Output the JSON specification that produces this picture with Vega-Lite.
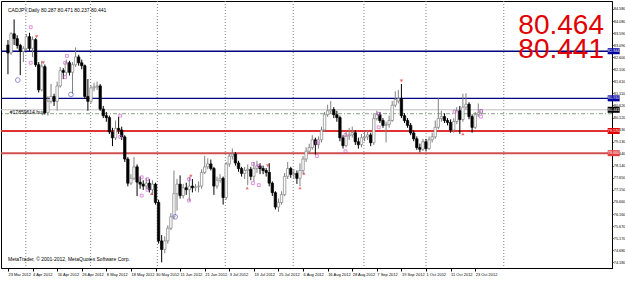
{
  "$schema": "https://vega.github.io/schema/vega-lite/v6.json",
  "width": 611,
  "height": 267,
  "autosize": {"type": "none"},
  "padding": {"left": 1, "top": 1, "right": 13, "bottom": 14},
  "background": "#ffffff",
  "config": {"view": {"stroke": "#000000", "strokeWidth": 1}, "font": "Liberation Sans", "axis": {"labelOverlap": false, "labelFlush": false}},
  "datasets": {
    "bars": [
      {"i":0,"o":83.10,"h":83.30,"l":81.90,"c":82.77},
      {"i":1,"o":82.77,"h":83.62,"l":82.70,"c":83.56},
      {"i":2,"o":83.56,"h":84.15,"l":83.10,"c":83.36},
      {"i":3,"o":83.36,"h":83.50,"l":82.95,"c":83.08},
      {"i":4,"o":83.08,"h":83.15,"l":81.86,"c":82.84},
      {"i":5,"o":82.84,"h":83.05,"l":82.40,"c":82.96},
      {"i":6,"o":82.96,"h":83.55,"l":82.90,"c":83.44},
      {"i":7,"o":83.44,"h":83.60,"l":82.85,"c":82.96},
      {"i":8,"o":82.96,"h":83.45,"l":82.60,"c":83.32},
      {"i":9,"o":83.32,"h":83.38,"l":82.20,"c":82.29},
      {"i":10,"o":82.29,"h":82.40,"l":81.15,"c":81.26},
      {"i":11,"o":81.26,"h":82.45,"l":81.20,"c":82.21},
      {"i":12,"o":82.21,"h":82.30,"l":80.25,"c":80.32},
      {"i":13,"o":80.32,"h":81.00,"l":80.20,"c":80.79},
      {"i":14,"o":80.79,"h":81.50,"l":80.70,"c":80.99},
      {"i":15,"o":80.99,"h":81.10,"l":80.60,"c":80.79},
      {"i":16,"o":80.79,"h":81.60,"l":80.40,"c":81.42},
      {"i":17,"o":81.42,"h":82.20,"l":81.35,"c":82.05},
      {"i":18,"o":82.05,"h":82.15,"l":81.70,"c":81.98},
      {"i":19,"o":81.98,"h":82.50,"l":81.85,"c":82.37},
      {"i":20,"o":82.37,"h":82.45,"l":81.85,"c":81.98},
      {"i":21,"o":81.98,"h":82.40,"l":81.10,"c":82.29},
      {"i":22,"o":82.29,"h":83.00,"l":82.20,"c":82.61},
      {"i":23,"o":82.61,"h":82.70,"l":82.25,"c":82.37},
      {"i":24,"o":82.37,"h":82.50,"l":82.10,"c":82.25},
      {"i":25,"o":82.25,"h":82.30,"l":80.90,"c":80.99},
      {"i":26,"o":80.99,"h":81.70,"l":80.40,"c":80.79},
      {"i":27,"o":80.79,"h":81.45,"l":80.70,"c":81.34},
      {"i":28,"o":81.34,"h":81.55,"l":81.20,"c":81.38},
      {"i":29,"o":81.38,"h":81.60,"l":81.25,"c":81.42},
      {"i":30,"o":81.42,"h":81.50,"l":80.40,"c":80.47},
      {"i":31,"o":80.47,"h":80.60,"l":80.10,"c":80.20},
      {"i":32,"o":80.20,"h":80.35,"l":79.95,"c":80.12},
      {"i":33,"o":80.12,"h":80.20,"l":79.45,"c":79.53},
      {"i":34,"o":79.53,"h":79.70,"l":78.95,"c":79.29},
      {"i":35,"o":79.29,"h":80.00,"l":79.20,"c":79.68},
      {"i":36,"o":79.68,"h":80.15,"l":79.45,"c":79.61},
      {"i":37,"o":79.61,"h":79.75,"l":79.20,"c":79.33},
      {"i":38,"o":79.33,"h":79.40,"l":78.30,"c":78.42},
      {"i":39,"o":78.42,"h":78.50,"l":77.30,"c":77.43},
      {"i":40,"o":77.43,"h":77.80,"l":77.35,"c":77.63},
      {"i":41,"o":77.63,"h":78.50,"l":77.55,"c":78.10},
      {"i":42,"o":78.10,"h":78.20,"l":76.90,"c":77.47},
      {"i":43,"o":77.47,"h":77.70,"l":77.20,"c":77.39},
      {"i":44,"o":77.39,"h":77.55,"l":77.15,"c":77.31},
      {"i":45,"o":77.31,"h":77.65,"l":77.20,"c":77.43},
      {"i":46,"o":77.43,"h":77.60,"l":77.05,"c":77.16},
      {"i":47,"o":77.16,"h":77.55,"l":76.95,"c":77.39},
      {"i":48,"o":77.39,"h":77.45,"l":76.55,"c":76.64},
      {"i":49,"o":76.64,"h":76.75,"l":74.95,"c":75.06},
      {"i":50,"o":75.06,"h":75.30,"l":74.18,"c":74.71},
      {"i":51,"o":74.71,"h":75.25,"l":74.55,"c":75.06},
      {"i":52,"o":75.06,"h":75.70,"l":74.95,"c":75.58},
      {"i":53,"o":75.58,"h":76.20,"l":75.50,"c":76.05},
      {"i":54,"o":76.05,"h":77.95,"l":75.95,"c":77.00},
      {"i":55,"o":77.00,"h":77.60,"l":76.30,"c":77.39},
      {"i":56,"o":77.39,"h":77.75,"l":76.80,"c":76.92},
      {"i":57,"o":76.92,"h":77.40,"l":76.80,"c":77.24},
      {"i":58,"o":77.24,"h":77.45,"l":76.95,"c":77.16},
      {"i":59,"o":77.16,"h":77.70,"l":76.70,"c":77.31},
      {"i":60,"o":77.31,"h":77.60,"l":77.05,"c":77.24},
      {"i":61,"o":77.24,"h":77.40,"l":77.10,"c":77.28},
      {"i":62,"o":77.28,"h":77.50,"l":77.05,"c":77.31},
      {"i":63,"o":77.31,"h":78.00,"l":77.20,"c":77.87},
      {"i":64,"o":77.87,"h":78.55,"l":77.80,"c":78.10},
      {"i":65,"o":78.10,"h":78.45,"l":78.00,"c":78.22},
      {"i":66,"o":78.22,"h":78.40,"l":77.95,"c":78.03},
      {"i":67,"o":78.03,"h":78.10,"l":76.95,"c":77.31},
      {"i":68,"o":77.31,"h":77.70,"l":77.20,"c":77.55},
      {"i":69,"o":77.55,"h":77.80,"l":77.45,"c":77.63},
      {"i":70,"o":77.63,"h":77.70,"l":76.55,"c":76.84},
      {"i":71,"o":76.84,"h":78.30,"l":76.75,"c":78.22},
      {"i":72,"o":78.22,"h":78.65,"l":78.10,"c":78.54},
      {"i":73,"o":78.54,"h":78.85,"l":78.40,"c":78.62},
      {"i":74,"o":78.62,"h":78.70,"l":78.15,"c":78.26},
      {"i":75,"o":78.26,"h":78.35,"l":77.90,"c":78.03},
      {"i":76,"o":78.03,"h":78.10,"l":77.70,"c":77.83},
      {"i":77,"o":77.83,"h":78.10,"l":77.60,"c":77.95},
      {"i":78,"o":77.95,"h":78.20,"l":77.35,"c":78.00},
      {"i":79,"o":78.00,"h":78.10,"l":77.55,"c":77.71},
      {"i":80,"o":77.71,"h":78.30,"l":77.50,"c":78.03},
      {"i":81,"o":78.03,"h":78.35,"l":77.85,"c":78.14},
      {"i":82,"o":78.14,"h":78.25,"l":77.80,"c":78.03},
      {"i":83,"o":78.03,"h":78.15,"l":77.80,"c":77.95},
      {"i":84,"o":77.95,"h":78.05,"l":77.70,"c":77.87},
      {"i":85,"o":77.87,"h":78.25,"l":77.30,"c":77.43},
      {"i":86,"o":77.43,"h":77.50,"l":76.90,"c":77.04},
      {"i":87,"o":77.04,"h":77.10,"l":76.35,"c":76.45},
      {"i":88,"o":76.45,"h":76.80,"l":76.25,"c":76.64},
      {"i":89,"o":76.64,"h":77.10,"l":76.55,"c":76.96},
      {"i":90,"o":76.96,"h":77.85,"l":76.90,"c":77.71},
      {"i":91,"o":77.71,"h":78.30,"l":77.60,"c":78.03},
      {"i":92,"o":78.03,"h":78.10,"l":77.65,"c":77.79},
      {"i":93,"o":77.79,"h":78.00,"l":77.60,"c":77.83},
      {"i":94,"o":77.83,"h":77.95,"l":77.40,"c":77.63},
      {"i":95,"o":77.63,"h":78.25,"l":77.30,"c":77.95},
      {"i":96,"o":77.95,"h":78.55,"l":77.80,"c":78.42},
      {"i":97,"o":78.42,"h":78.90,"l":78.30,"c":78.74},
      {"i":98,"o":78.74,"h":79.05,"l":78.65,"c":78.89},
      {"i":99,"o":78.89,"h":79.40,"l":78.80,"c":79.21},
      {"i":100,"o":79.21,"h":79.30,"l":78.60,"c":79.01},
      {"i":101,"o":79.01,"h":79.35,"l":78.85,"c":79.21},
      {"i":102,"o":79.21,"h":79.75,"l":79.10,"c":79.61},
      {"i":103,"o":79.61,"h":80.35,"l":79.55,"c":80.24},
      {"i":104,"o":80.24,"h":80.65,"l":80.15,"c":80.40},
      {"i":105,"o":80.40,"h":80.80,"l":80.30,"c":80.45},
      {"i":106,"o":80.45,"h":80.55,"l":80.10,"c":80.24},
      {"i":107,"o":80.24,"h":80.40,"l":79.95,"c":80.12},
      {"i":108,"o":80.12,"h":80.20,"l":79.15,"c":79.29},
      {"i":109,"o":79.29,"h":79.40,"l":78.85,"c":78.97},
      {"i":110,"o":78.97,"h":79.55,"l":78.90,"c":79.37},
      {"i":111,"o":79.37,"h":79.70,"l":79.20,"c":79.41},
      {"i":112,"o":79.41,"h":79.75,"l":79.30,"c":79.50},
      {"i":113,"o":79.50,"h":79.60,"l":79.00,"c":79.13},
      {"i":114,"o":79.13,"h":79.30,"l":78.85,"c":79.01},
      {"i":115,"o":79.01,"h":79.45,"l":78.90,"c":79.29},
      {"i":116,"o":79.29,"h":79.55,"l":79.15,"c":79.33},
      {"i":117,"o":79.33,"h":79.60,"l":79.20,"c":79.41},
      {"i":118,"o":79.41,"h":79.50,"l":78.95,"c":79.09},
      {"i":119,"o":79.09,"h":80.30,"l":79.00,"c":80.08},
      {"i":120,"o":80.08,"h":80.40,"l":80.00,"c":80.24},
      {"i":121,"o":80.24,"h":80.35,"l":79.90,"c":80.00},
      {"i":122,"o":80.00,"h":80.10,"l":79.70,"c":79.80},
      {"i":123,"o":79.80,"h":79.95,"l":79.10,"c":79.84},
      {"i":124,"o":79.84,"h":80.20,"l":79.70,"c":80.00},
      {"i":125,"o":80.00,"h":80.80,"l":79.95,"c":80.63},
      {"i":126,"o":80.63,"h":81.20,"l":80.55,"c":80.87},
      {"i":127,"o":80.80,"h":81.25,"l":80.70,"c":80.90},
      {"i":128,"o":80.90,"h":81.50,"l":80.10,"c":80.20},
      {"i":129,"o":80.20,"h":80.30,"l":79.90,"c":80.00},
      {"i":130,"o":80.00,"h":80.10,"l":79.70,"c":79.80},
      {"i":131,"o":79.80,"h":79.90,"l":79.40,"c":79.49},
      {"i":132,"o":79.49,"h":79.60,"l":79.15,"c":79.25},
      {"i":133,"o":79.25,"h":79.35,"l":78.80,"c":78.89},
      {"i":134,"o":78.89,"h":79.05,"l":78.70,"c":78.82},
      {"i":135,"o":78.82,"h":79.25,"l":78.75,"c":79.13},
      {"i":136,"o":79.13,"h":79.25,"l":78.75,"c":78.85},
      {"i":137,"o":78.85,"h":79.35,"l":78.80,"c":79.21},
      {"i":138,"o":79.21,"h":79.50,"l":79.10,"c":79.33},
      {"i":139,"o":79.33,"h":80.00,"l":79.25,"c":79.72},
      {"i":140,"o":79.72,"h":80.91,"l":79.65,"c":80.08},
      {"i":141,"o":80.08,"h":80.40,"l":79.95,"c":80.16},
      {"i":142,"o":80.16,"h":80.30,"l":79.90,"c":80.00},
      {"i":143,"o":80.00,"h":80.10,"l":79.80,"c":79.92},
      {"i":144,"o":79.92,"h":80.05,"l":79.50,"c":79.61},
      {"i":145,"o":79.61,"h":80.10,"l":79.50,"c":79.96},
      {"i":146,"o":79.96,"h":80.55,"l":79.85,"c":80.40},
      {"i":147,"o":80.40,"h":80.60,"l":79.45,"c":80.04},
      {"i":148,"o":80.04,"h":81.10,"l":79.95,"c":80.55},
      {"i":149,"o":80.55,"h":81.12,"l":80.45,"c":80.67},
      {"i":150,"o":80.67,"h":80.75,"l":80.05,"c":80.16},
      {"i":151,"o":80.16,"h":80.25,"l":79.50,"c":79.72},
      {"i":152,"o":79.72,"h":80.35,"l":79.65,"c":80.24},
      {"i":153,"o":80.24,"h":80.70,"l":80.15,"c":80.32},
      {"i":154,"o":80.287,"h":80.471,"l":80.237,"c":80.441}
    ],
    "months": [{"i":5.8},{"i":26.9},{"i":48.6},{"i":70.7},{"i":92.8},{"i":115.8},{"i":136},{"i":161.3}],
    "markers": [
      {"i":3.2,"p":81.66,"k":"circ"},{"i":20.5,"p":81.07,"k":"circ"},{"i":54.4,"p":76.05,"k":"circ"},
      {"i":9.3,"p":83.44,"k":"dn"},{"i":11.5,"p":82.37,"k":"dn"},{"i":128,"p":81.62,"k":"dn"},{"i":59.5,"p":77.71,"k":"dn"},{"i":84.5,"p":78.14,"k":"dn"},
      {"i":46.7,"p":77.0,"k":"up"},{"i":77.8,"p":77.24,"k":"up"},{"i":95,"p":77.24,"k":"up"},{"i":96.3,"p":77.83,"k":"up"},{"i":148,"p":79.45,"k":"up"},
      {"i":7.4,"p":83.83,"k":"mag"},{"i":7.4,"p":82.37,"k":"mag"},{"i":19.2,"p":82.65,"k":"mag"},{"i":18.6,"p":82.37,"k":"mag"},{"i":18.6,"p":81.78,"k":"mag"},
      {"i":36.5,"p":80.20,"k":"mag"},{"i":36.5,"p":79.33,"k":"mag"},{"i":43.5,"p":77.67,"k":"mag"},{"i":45.4,"p":77.59,"k":"mag"},{"i":45.4,"p":77.16,"k":"mag"},
      {"i":43.5,"p":76.92,"k":"mag"},{"i":58.9,"p":77.59,"k":"mag"},{"i":58.9,"p":76.72,"k":"mag"},{"i":79.7,"p":78.22,"k":"mag"},{"i":81.6,"p":78.14,"k":"mag"},
      {"i":79.7,"p":77.43,"k":"mag"},{"i":81.6,"p":77.35,"k":"mag"},{"i":100.5,"p":79.09,"k":"mag"},{"i":100.5,"p":78.54,"k":"mag"},{"i":109.8,"p":79.41,"k":"mag"},
      {"i":109.8,"p":78.74,"k":"mag"},{"i":120.6,"p":80.28,"k":"mag"},{"i":120.6,"p":79.72,"k":"mag"},{"i":145.3,"p":80.36,"k":"mag"},{"i":153.9,"p":80.40,"k":"mag"},{"i":153.9,"p":80.16,"k":"mag"}
    ],
    "tags": [
      {"p":82.844,"t":"82.844","f":"#0000a0"},
      {"p":80.910,"t":"80.910","f":"#0000a0"},
      {"p":80.441,"t":"80.441","f":"#000000"},
      {"p":79.570,"t":"79.570","f":"#e00000"},
      {"p":78.660,"t":"78.660","f":"#e04040"}
    ]
  },
  "layer": [
    {
      "data": {"name": "months"},
      "mark": {"type": "rule", "color": "#808080", "strokeDash": [1, 2], "strokeWidth": 1},
      "encoding": {
        "x": {"field": "i", "type": "quantitative", "scale": {"domain": [-0.64, 194.88], "nice": false, "zero": false},
          "axis": {"orient": "bottom", "title": null, "values": [0,8,16,24,32,40,48,56,64,72,80,88,96,104,112,120,128,136,144,152], "tickCount": 200,
            "labelExpr": "['23 Mar 2012','4 Apr 2012','16 Apr 2012','26 Apr 2012','8 May 2012','18 May 2012','30 May 2012','11 Jun 2012','21 Jun 2012','3 Jul 2012','13 Jul 2012','25 Jul 2012','6 Aug 2012','16 Aug 2012','28 Aug 2012','7 Sep 2012','19 Sep 2012','1 Oct 2012','11 Oct 2012','23 Oct 2012'][round(datum.value/8)]",
            "labelAlign": "left", "labelFontSize": 4, "labelColor": "#000000", "labelFont": "Liberation Sans", "tickSize": 3, "tickColor": "#000000", "domainColor": "#000000", "labelPadding": 1.5, "grid": false, "labelOverlap": false, "labelFlush": false}}
      }
    },
    {
      "data": {"values": [{"p": 80.441}]},
      "mark": {"type": "rule", "color": "#c0c0c0", "strokeWidth": 1},
      "encoding": {"y": {"field": "p", "type": "quantitative"}}
    },
    {
      "data": {"values": [{"p": 80.28}]},
      "mark": {"type": "rule", "color": "#7fa77f", "strokeWidth": 1, "strokeDash": [4, 2, 1, 2]},
      "encoding": {"y": {"field": "p", "type": "quantitative"}}
    },
    {
      "data": {"values": [{"p": 82.844}, {"p": 80.910}]},
      "mark": {"type": "rule", "color": "#000080", "strokeWidth": 1.3},
      "encoding": {"y": {"field": "p", "type": "quantitative"}}
    },
    {
      "data": {"values": [{"p": 79.570}]},
      "mark": {"type": "rule", "color": "#e03030", "strokeWidth": 1.8},
      "encoding": {"y": {"field": "p", "type": "quantitative"}}
    },
    {
      "data": {"values": [{"p": 78.660}]},
      "mark": {"type": "rule", "color": "#d05050", "strokeWidth": 2},
      "encoding": {"y": {"field": "p", "type": "quantitative"}}
    },
    {
      "data": {"name": "bars"},
      "mark": {"type": "rule", "strokeWidth": 1},
      "encoding": {
        "x": {"field": "i", "type": "quantitative"},
        "y": {"field": "l", "type": "quantitative", "scale": {"domain": [74.154, 84.70], "nice": false, "zero": false},
          "axis": {"orient": "right", "title": null, "values": [74.18,74.68,75.17,75.67,76.16,76.66,77.15,77.65,78.14,78.64,79.13,79.63,80.12,80.62,81.11,81.61,82.10,82.60,83.09,83.59,84.08,84.58], "tickCount": 200,
            "format": ".3f", "labelFontSize": 3.8, "labelColor": "#000000", "labelFont": "Liberation Sans", "tickSize": 1, "tickColor": "#000000", "domainColor": "#000000", "labelPadding": 0.3, "grid": false, "labelOverlap": false, "labelFlush": false}},
        "y2": {"field": "h"},
        "color": {"condition": {"test": "datum.c >= datum.o", "value": "#808080"}, "value": "#000000"}
      }
    },
    {
      "data": {"name": "bars"},
      "mark": {"type": "bar", "width": 2.4, "strokeWidth": 0.7},
      "encoding": {
        "x": {"field": "i", "type": "quantitative"},
        "y": {"field": "o", "type": "quantitative"},
        "y2": {"field": "c"},
        "fill": {"condition": {"test": "datum.c >= datum.o", "value": "#ffffff"}, "value": "#000000"},
        "stroke": {"condition": {"test": "datum.c >= datum.o", "value": "#808080"}, "value": "#000000"}
      }
    },
    {
      "data": {"name": "markers"},
      "transform": [{"filter": "datum.k == 'mag'"}],
      "mark": {"type": "point", "shape": "square", "size": 8, "filled": false, "color": "#cc55cc", "strokeWidth": 0.9},
      "encoding": {"x": {"field": "i", "type": "quantitative"}, "y": {"field": "p", "type": "quantitative"}}
    },
    {
      "data": {"name": "markers"},
      "transform": [{"filter": "datum.k == 'circ'"}],
      "mark": {"type": "point", "shape": "circle", "size": 22, "filled": false, "color": "#6060c8", "strokeWidth": 1},
      "encoding": {"x": {"field": "i", "type": "quantitative"}, "y": {"field": "p", "type": "quantitative"}}
    },
    {
      "data": {"name": "markers"},
      "transform": [{"filter": "datum.k == 'dn'"}],
      "mark": {"type": "point", "shape": "triangle-down", "size": 12, "filled": true, "color": "#e03030"},
      "encoding": {"x": {"field": "i", "type": "quantitative"}, "y": {"field": "p", "type": "quantitative"}}
    },
    {
      "data": {"name": "markers"},
      "transform": [{"filter": "datum.k == 'up'"}],
      "mark": {"type": "point", "shape": "triangle-up", "size": 10, "filled": true, "color": "#e03030"},
      "encoding": {"x": {"field": "i", "type": "quantitative"}, "y": {"field": "p", "type": "quantitative"}}
    },
    {
      "data": {"name": "tags"},
      "mark": {"type": "bar", "size": 6, "clip": false},
      "encoding": {
        "x": {"datum": 195.1, "type": "quantitative"},
        "x2": {"datum": 199},
        "y": {"field": "p", "type": "quantitative"},
        "fill": {"field": "f", "type": "nominal", "scale": null}
      }
    },
    {
      "data": {"name": "tags"},
      "mark": {"type": "text", "fontSize": 3.8, "color": "#ffffff", "align": "center", "baseline": "middle", "clip": false},
      "encoding": {
        "x": {"datum": 197.05, "type": "quantitative"},
        "y": {"field": "p", "type": "quantitative"},
        "text": {"field": "t"}
      }
    },
    {
      "data": {"values": [{"t": "80.464", "p": 83.55}, {"t": "80.441", "p": 82.57}]},
      "mark": {"type": "text", "fontSize": 28, "color": "#e00000", "align": "right", "baseline": "alphabetic", "font": "Liberation Sans"},
      "encoding": {
        "x": {"datum": 193.9, "type": "quantitative"},
        "y": {"field": "p", "type": "quantitative"},
        "text": {"field": "t"}
      }
    },
    {
      "data": {"values": [
        {"t": "CADJPY,Daily  80.287 80.471 80.237 80.441", "x": 0.0, "p": 84.52},
        {"t": "MetaTrader, © 2001-2012, MetaQuotes Software Corp.", "x": 0.0, "p": 74.33},
        {"t": "#17859614 buy", "x": 0.6, "p": 80.33}
      ]},
      "mark": {"type": "text", "fontSize": 5, "color": "#000000", "align": "left", "baseline": "middle", "font": "Liberation Sans"},
      "encoding": {
        "x": {"field": "x", "type": "quantitative"},
        "y": {"field": "p", "type": "quantitative"},
        "text": {"field": "t"}
      }
    }
  ]
}
